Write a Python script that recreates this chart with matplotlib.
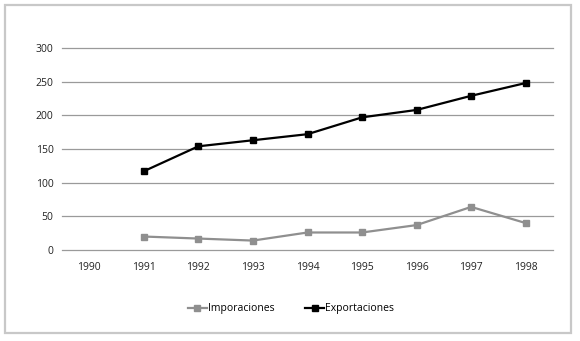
import matplotlib
matplotlib.use("Agg")
import matplotlib.pyplot as plt
from matplotlib.patches import Rectangle

plt.rcParams["font.family"] = ["Open Sans", "DejaVu Sans"]

years = ["1990", "1991", "1992", "1993", "1994", "1995", "1996", "1997", "1998"]
# None = no value for that year
importaciones = [None, 20, 17, 14, 26, 26, 37, 64, 40]
exportaciones = [None, 117, 154, 163, 172, 197, 208, 229, 248]

fig = plt.figure(figsize=(5.8, 3.41), dpi=100)
fig.patches.append(Rectangle((5 / 580, 1 - 333 / 341), 566 / 580, 328 / 341,
                             transform=fig.transFigure, fill=False,
                             edgecolor="#c8c8c8", linewidth=1.6))

ax = fig.add_axes([62 / 580, 1 - 250 / 341, 491 / 580, 202 / 341])
x = list(range(len(years)))

def pts(vals):
    xs = [i for i, v in zip(x, vals) if v is not None]
    ys = [v for v in vals if v is not None]
    return xs, ys

xi, yi = pts(importaciones)
xe, ye = pts(exportaciones)
ax.plot(xi, yi, "-s", color="#8f8f8f", lw=1.6, ms=5, label="Imporaciones", zorder=3)
ax.plot(xe, ye, "-s", color="black", lw=1.6, ms=5, label="Exportaciones", zorder=3)

ax.set_xlim(-0.5, len(years) - 0.5)
ax.set_ylim(0, 300)
ax.set_yticks(range(0, 301, 50))
ax.set_xticks(x)
ax.set_xticklabels(years)
ax.yaxis.grid(True, color="#9a9a9a", lw=0.9)
for gl in ax.get_ygridlines():
    gl.set_clip_on(False)
ax.set_axisbelow(True)
for s in ax.spines.values():
    s.set_visible(False)
ax.tick_params(length=0, labelsize=7.5, colors="#222222", pad=6)
ax.tick_params(axis="x", pad=9)

fig.legend(loc="center", bbox_to_anchor=(291 / 580, 1 - 309 / 341), ncol=2,
           frameon=False, fontsize=7.5, handlelength=1.8, handletextpad=0.1,
           columnspacing=3.0)

fig.savefig("out.png", dpi=100)
